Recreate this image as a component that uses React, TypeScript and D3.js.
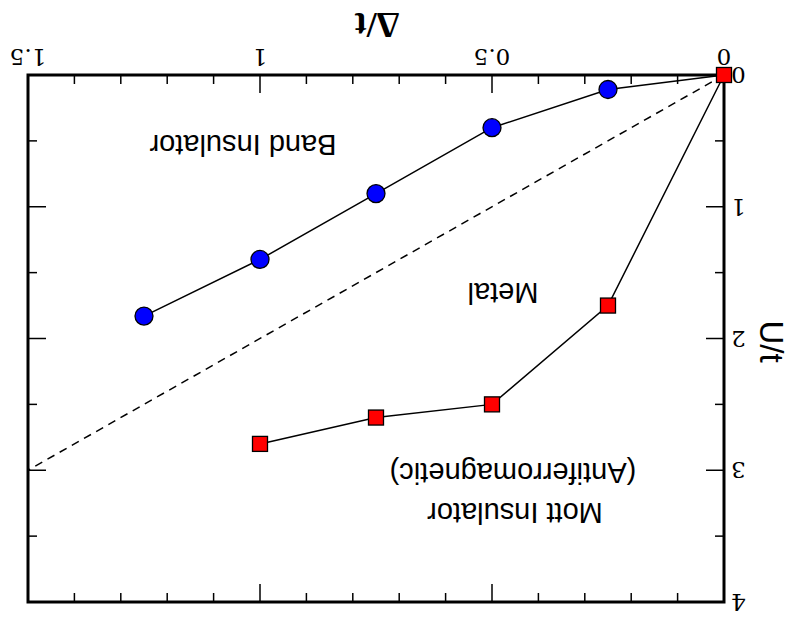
import React from "react";
import * as d3 from "d3";

const deltaBand = [0, 0.25, 0.5, 0.75, 1.0, 1.25];
const uBand = [0, 0.11, 0.4, 0.9, 1.4, 1.83];
const deltaMott = [0, 0.25, 0.5, 0.75, 1.0];
const uMott = [0, 1.75, 2.5, 2.6, 2.8];
const dashDelta = [0, 1.5];
const dashU = [0, 3];
const xTicks = [0, 0.5, 1, 1.5];
const yTicks = [0, 1, 2, 3, 4];
const regionLabels = ["Band Insulator", "Metal", "Mott Insulator", "(Antiferromagnetic)"];

const W = 797, H = 622;
const L = 73, R = 769, T = 20, B = 547;

export default function App() {
  const x = d3.scaleLinear().domain([0, 1.5]).range([L, R]);
  const y = d3.scaleLinear().domain([0, 4]).range([B, T]);
  const line = d3.line<[number, number]>().x(d => x(d[0])).y(d => y(d[1]));
  const band: [number, number][] = deltaBand.map((d, i) => [d, uBand[i]]);
  const mott: [number, number][] = deltaMott.map((d, i) => [d, uMott[i]]);
  const dash: [number, number][] = dashDelta.map((d, i) => [d, dashU[i]]);
  const xMinor = d3.range(0, 1.5001, 0.1);
  const yMinor = d3.range(0, 4.001, 0.5);
  const serif = "'DejaVu Serif', 'Liberation Serif', serif";
  const times = "'Liberation Serif', 'Times New Roman', serif";
  const sans = "'Liberation Sans', Arial, sans-serif";
  return (
    <svg width={W} height={H} style={{ position: "fixed", left: 0, top: 0, background: "#fff" }}>
      <rect width={W} height={H} fill="#fff" />
      <g transform={`rotate(180 ${W / 2} ${H / 2})`}>
        {xMinor.map((v, i) => {
          const major = Math.abs(v * 2 - Math.round(v * 2)) < 1e-6;
          const len = major ? 18 : 9;
          return (
            <g key={"xt" + i}>
              <line x1={x(v)} x2={x(v)} y1={B} y2={B - len} stroke="#000" strokeWidth={1.5} />
              <line x1={x(v)} x2={x(v)} y1={T} y2={T + len} stroke="#000" strokeWidth={1.5} />
            </g>
          );
        })}
        {yMinor.map((v, i) => {
          const major = Math.abs(v - Math.round(v)) < 1e-6;
          const len = major ? 18 : 9;
          return (
            <g key={"yt" + i}>
              <line x1={L} x2={L + len} y1={y(v)} y2={y(v)} stroke="#000" strokeWidth={1.5} />
              <line x1={R} x2={R - len} y1={y(v)} y2={y(v)} stroke="#000" strokeWidth={1.5} />
            </g>
          );
        })}
        <rect x={L} y={T} width={R - L} height={B - T} fill="none" stroke="#000" strokeWidth={3} />
        {xTicks.map(v => (
          <text key={"xl" + v} x={x(v)} y={B + 26} textAnchor="middle" fontFamily={serif} fontSize={23}>{v}</text>
        ))}
        {yTicks.map(v => (
          <text key={"yl" + v} x={L - 7} y={y(v) + 8} textAnchor="end" fontFamily={serif} fontSize={23}>{v}</text>
        ))}
        <text x={420} y={609} textAnchor="middle" fontFamily={times} fontWeight="bold" fontSize={36}>Δ/t</text>
        <text transform={`translate(37,${y(2) - 3}) rotate(-90)`} textAnchor="middle" fontFamily={sans} fontSize={33}>U/t</text>
        <text x={554} y={487} textAnchor="middle" fontFamily={sans} fontSize={29}>{regionLabels[0]}</text>
        <text x={294} y={339} textAnchor="middle" fontFamily={sans} fontSize={29}>{regionLabels[1]}</text>
        <text x={282} y={119} textAnchor="middle" fontFamily={sans} fontSize={29}>{regionLabels[2]}</text>
        <text x={284} y={159} textAnchor="middle" fontFamily={sans} fontSize={29}>{regionLabels[3]}</text>
        <path d={line(dash) || ""} fill="none" stroke="#000" strokeWidth={1.5} strokeDasharray="8,6" />
        <path d={line(band) || ""} fill="none" stroke="#000" strokeWidth={1.5} />
        <path d={line(mott) || ""} fill="none" stroke="#000" strokeWidth={1.5} />
        {band.slice(1).map((d, i) => (
          <circle key={"c" + i} cx={x(d[0])} cy={y(d[1])} r={9} fill="#0000ff" stroke="#000" strokeWidth={1.3} />
        ))}
        {mott.map((d, i) => (
          <rect key={"s" + i} x={x(d[0]) - 7.5} y={y(d[1]) - 7.5} width={15} height={15} fill="#ff0000" stroke="#000" strokeWidth={1.3} />
        ))}
      </g>
    </svg>
  );
}
